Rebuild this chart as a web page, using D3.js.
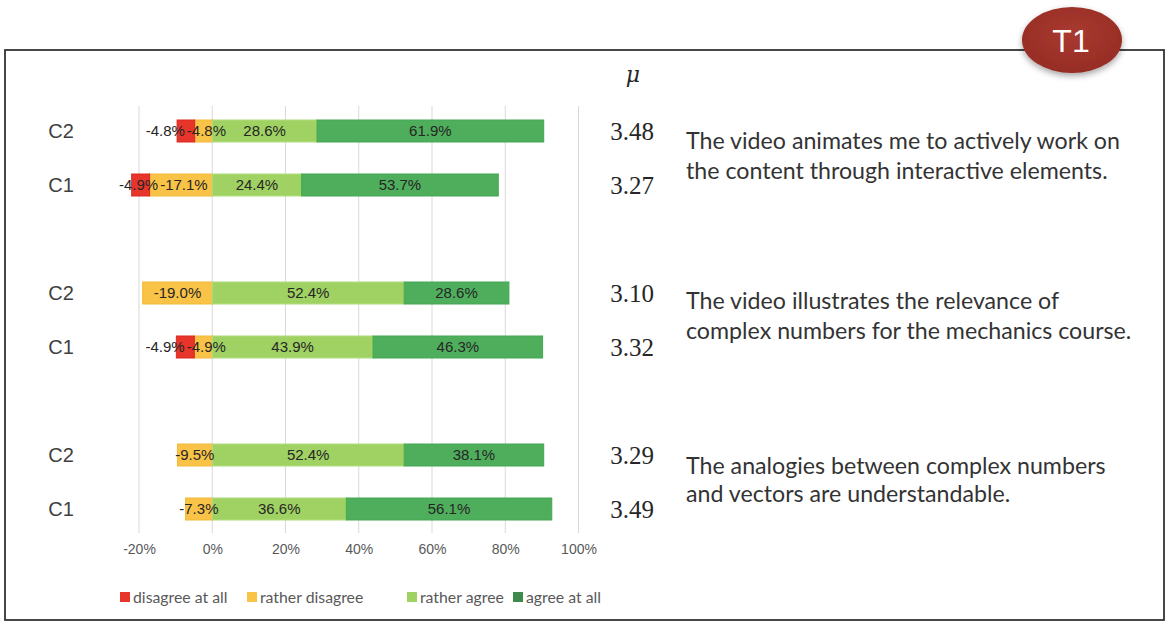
<!DOCTYPE html>
<html>
<head>
<meta charset="utf-8">
<script src="https://cdn.jsdelivr.net/npm/d3@7"></script>
<style>
  body { margin: 0; background: #fff; }
  svg { display: block; }
</style>
</head>
<body>
<svg id="chart" width="1170" height="626"></svg>
<script>
// Row ids, top to bottom (blank slots keep the gap between statements)
const rows = ["s1C2", "s1C1", "gapA", "s2C2", "s2C1", "gapB", "s3C2", "s3C1"];
const rowLabels = ["C2", "C1", "", "C2", "C1", "", "C2", "C1"];

// Answer categories (stack order from zero outwards)
const seriesNames = ["disagree at all", "rather disagree", "rather agree", "agree at all"];

// Percentages per row (disagree values are negative)
const disagreeAtAll   = [-4.8, -4.9, null, 0,     -4.9, null, 0,    0];
const ratherDisagree  = [-4.8, -17.1, null, -19.0, -4.9, null, -9.5, -7.3];
const ratherAgree     = [28.6, 24.4, null, 52.4,  43.9, null, 52.4, 36.6];
const agreeAtAll      = [61.9, 53.7, null, 28.6,  46.3, null, 38.1, 56.1];

// Mean values shown right of the bars
const muValues = ["3.48", "3.27", null, "3.10", "3.32", null, "3.29", "3.49"];

// Statements (two lines each), attached to the C2 row of each group
const statements = [
  { row: "s1C2", lines: ["The video animates me to actively work on", "the content through interactive elements."] },
  { row: "s2C2", lines: ["The video illustrates the relevance of", "complex numbers for the mechanics course."] },
  { row: "s3C2", lines: ["The analogies between complex numbers", "and vectors are understandable."] }
];

const xTicks = [-20, 0, 20, 40, 60, 80, 100];

const barColors    = ["#e8352b", "#f8c346", "#a0d163", "#4fae5c"];
const strokeColors = ["#d92a22", "#f2b93a", "#b2dc7f", "#45a852"];
const legendColors = ["#e8352b", "#f8c346", "#a0d163", "#3d8a4c"];

const svg = d3.select("#chart");

// Frame
svg.append("rect")
  .attr("x", 5).attr("y", 50)
  .attr("width", 1159).attr("height", 570)
  .attr("fill", "none").attr("stroke", "#333").attr("stroke-width", 1.8);

// Scales
const x = d3.scaleLinear().domain([-20, 100]).range([139, 578.5]);
const y = d3.scalePoint().domain(rows).range([131, 509]);
const barH = 22;

// Gridlines
svg.append("g")
  .selectAll("line")
  .data(xTicks)
  .join("line")
  .attr("x1", d => x(d)).attr("x2", d => x(d))
  .attr("y1", 106).attr("y2", 533)
  .attr("stroke", "#d9d9d9").attr("stroke-width", 1);

// X axis (labels only)
const xAxis = d3.axisBottom(x).tickValues(xTicks).tickFormat(d => d + "%").tickSize(0);
const gx = svg.append("g")
  .attr("transform", "translate(0,541)")
  .call(xAxis);
gx.select(".domain").remove();
gx.selectAll(".tick text")
  .attr("font-family", "Liberation Sans, Arial, sans-serif")
  .attr("font-size", 14)
  .attr("fill", "#595959");

// Build stacked segments
const seriesVals = [disagreeAtAll, ratherDisagree, ratherAgree, agreeAtAll];
const segments = [];
rows.forEach((r, i) => {
  if (ratherAgree[i] === null) return;
  // negatives: rather disagree next to zero, disagree at all outside
  let neg = 0;
  [1, 0].forEach(k => {
    const v = seriesVals[k][i];
    if (v) { segments.push({ row: r, k, v, x0: neg + v, x1: neg }); neg += v; }
  });
  let pos = 0;
  [2, 3].forEach(k => {
    const v = seriesVals[k][i];
    if (v) { segments.push({ row: r, k, v, x0: pos, x1: pos + v }); pos += v; }
  });
});

const bars = svg.append("g");
bars.selectAll("rect")
  .data(segments)
  .join("rect")
  .attr("x", d => x(d.x0))
  .attr("width", d => x(d.x1) - x(d.x0))
  .attr("y", d => y(d.row) - barH / 2)
  .attr("height", barH)
  .attr("fill", d => barColors[d.k])
  .attr("stroke", d => strokeColors[d.k])
  .attr("stroke-width", 1);

const labels = bars.selectAll("text")
  .data(segments)
  .join("text")
  .attr("x", d => (x(d.x0) + x(d.x1)) / 2)
  .attr("y", d => y(d.row))
  .attr("dy", "0.36em")
  .attr("text-anchor", "middle")
  .attr("font-family", "Liberation Sans, Arial, sans-serif")
  .attr("font-size", 15)
  .attr("fill", "#262626")
  .text(d => d.v.toFixed(1) + "%");

// Push the outer "disagree at all" label left when it collides with its neighbour
labels.each(function(d) { d.w = this.getComputedTextLength(); d.cx = (x(d.x0) + x(d.x1)) / 2; });
segments.filter(d => d.k === 0).forEach(red => {
  const yel = segments.find(s => s.row === red.row && s.k === 1);
  if (!yel) return;
  yel.cx += 3;
  const maxRight = yel.cx - yel.w / 2 - 2;
  if (red.cx + red.w / 2 > maxRight) red.cx = maxRight - red.w / 2;
});
labels.attr("x", d => d.cx);

// Row labels
svg.append("g")
  .selectAll("text")
  .data(rows.filter((r, i) => rowLabels[i]))
  .join("text")
  .attr("x", 61)
  .attr("y", d => y(d))
  .attr("dy", "0.36em")
  .attr("text-anchor", "middle")
  .attr("font-family", "Liberation Sans, Arial, sans-serif")
  .attr("font-size", 20)
  .attr("fill", "#404040")
  .text(d => rowLabels[rows.indexOf(d)]);

// mu header and values
svg.append("text")
  .attr("x", 633).attr("y", 82)
  .attr("text-anchor", "middle")
  .attr("font-family", "DejaVu Serif, serif")
  .attr("font-style", "italic")
  .attr("font-size", 22)
  .attr("fill", "#262626")
  .text("\u03bc");

svg.append("g")
  .selectAll("text")
  .data(rows.filter((r, i) => muValues[i]))
  .join("text")
  .attr("x", 632)
  .attr("y", d => y(d))
  .attr("dy", "0.36em")
  .attr("text-anchor", "middle")
  .attr("font-family", "Liberation Serif, Times New Roman, serif")
  .attr("font-size", 25)
  .attr("fill", "#262626")
  .text(d => muValues[rows.indexOf(d)]);

// Statements
const lineOffset = [18, 16, 19];
const lineGap = [30, 30, 28];
const st = svg.append("g")
  .selectAll("text")
  .data(statements)
  .join("text")
  .attr("font-family", "Lato, Open Sans, sans-serif")
  .attr("font-size", 23.2)
  .attr("fill", "#333333");
st.selectAll("tspan")
  .data((d, i) => d.lines.map((l, j) => ({ l, j, row: d.row, i })))
  .join("tspan")
  .attr("x", 686)
  .attr("y", d => y(d.row) + lineOffset[d.i] + d.j * lineGap[d.i])
  .text(d => d.l);

// Legend
const legendX = [120, 247, 407, 513];
const lg = svg.append("g")
  .selectAll("g")
  .data(seriesNames)
  .join("g")
  .attr("transform", (d, i) => `translate(${legendX[i]},597)`);
lg.append("rect")
  .attr("x", 0).attr("y", -5)
  .attr("width", 10).attr("height", 10)
  .attr("fill", (d, i) => legendColors[i]);
lg.append("text")
  .attr("x", 13).attr("dy", "0.35em")
  .attr("font-family", "Lato, Open Sans, sans-serif")
  .attr("font-size", 15.8)
  .attr("fill", "#595959")
  .text(d => d);

// T1 badge
const defs = svg.append("defs");
const grad = defs.append("radialGradient").attr("id", "badge").attr("cx", "50%").attr("cy", "40%").attr("r", "60%");
grad.append("stop").attr("offset", "0%").attr("stop-color", "#a93a30");
grad.append("stop").attr("offset", "100%").attr("stop-color", "#962c24");
const flt = defs.append("filter").attr("id", "shadow").attr("x", "-20%").attr("y", "-20%").attr("width", "140%").attr("height", "150%");
flt.append("feDropShadow").attr("dx", 0).attr("dy", 3).attr("stdDeviation", 3).attr("flood-color", "#000").attr("flood-opacity", 0.35);

svg.append("ellipse")
  .attr("cx", 1072).attr("cy", 40)
  .attr("rx", 50).attr("ry", 33)
  .attr("fill", "url(#badge)")
  .attr("filter", "url(#shadow)");
svg.append("text")
  .attr("x", 1071).attr("y", 40)
  .attr("dy", "0.36em")
  .attr("text-anchor", "middle")
  .attr("font-family", "Liberation Sans, Arial, sans-serif")
  .attr("font-size", 32)
  .attr("fill", "#ffffff")
  .text("T1");
</script>
</body>
</html>
